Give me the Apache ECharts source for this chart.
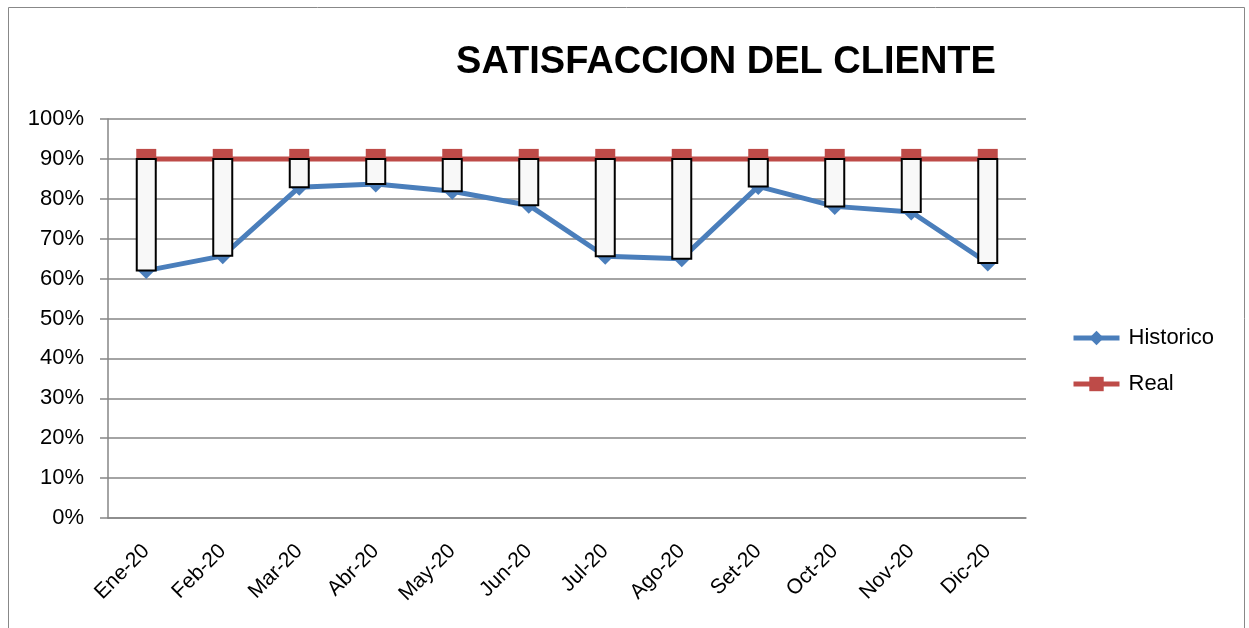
<!DOCTYPE html>
<html>
<head>
<meta charset="utf-8">
<script src="https://cdn.jsdelivr.net/npm/echarts@6/dist/echarts.min.js"></script>
<style>
html,body{margin:0;padding:0;background:#fff;}
#chart{width:1249px;height:628px;}
</style>
</head>
<body>
<div id="chart"></div>
<script>
const categories = ['Ene-20','Feb-20','Mar-20','Abr-20','May-20','Jun-20','Jul-20','Ago-20','Set-20','Oct-20','Nov-20','Dic-20'];
const historico = [0.62, 0.657, 0.829, 0.837, 0.819, 0.784, 0.656, 0.650, 0.831, 0.781, 0.767, 0.639];
const real = [0.90, 0.90, 0.90, 0.90, 0.90, 0.90, 0.90, 0.90, 0.90, 0.90, 0.90, 0.90];

const FONT = '"Liberation Sans", "Open Sans", sans-serif';
const chart = echarts.init(document.getElementById('chart'), null, {renderer:'canvas'});
const option = {
  backgroundColor:'#fff',
  animation:false,
  title:{
    text:'SATISFACCION DEL CLIENTE',
    left:721, textAlign:'center', top:39,
    textStyle:{fontFamily:FONT, fontWeight:'bold', fontSize:38, color:'#000'}
  },
  graphic:[{type:'rect', shape:{x:8.5,y:7.5,width:1236,height:640}, style:{fill:'none', stroke:'#888', lineWidth:1}, silent:true}],
  legend:{
    orient:'vertical', left:1066, top:322, itemGap:24,
    itemWidth:46, itemHeight:18,
    textStyle:{fontFamily:FONT, fontSize:22, color:'#000', padding:[0,0,0,4]},
    data:[
      {name:'Historico', lineStyle:{width:5}},
      {name:'Real', lineStyle:{width:5}}
    ]
  },
  grid:{left:108, right:223, top:119, bottom:110, containLabel:false},
  xAxis:{
    type:'category', data:categories, boundaryGap:true,
    axisLine:{lineStyle:{color:'#868686', width:1.5}},
    axisTick:{show:false},
    axisLabel:{rotate:45, margin:30, fontFamily:FONT, fontSize:21, color:'#000', interval:0}
  },
  yAxis:{
    type:'value', min:0, max:1, interval:0.1,
    axisLine:{show:true, lineStyle:{color:'#868686', width:1.5}},
    axisTick:{show:true, length:8, lineStyle:{color:'#868686', width:1.5}},
    splitLine:{lineStyle:{color:'#868686', width:1.5}},
    axisLabel:{margin:24, fontFamily:FONT, fontSize:22, color:'#000',
      formatter:v=>Math.round(v*100)+'%'}
  },
  series:[
    {
      name:'Historico', type:'line', data:historico, z:2,
      symbol:'diamond', symbolSize:17, showSymbol:true,
      lineStyle:{color:'#4A7EBB', width:5},
      itemStyle:{color:'#4A7EBB'}
    },
    {
      name:'Real', type:'line', data:real, z:2,
      symbol:'rect', symbolSize:20,
      lineStyle:{color:'#BE4B48', width:5},
      itemStyle:{color:'#BE4B48'}
    },
    {
      name:'updown', type:'custom', z:5,
      data:categories.map((c,i)=>[i, historico[i], real[i]]),
      encode:{x:0, y:[1,2]},
      renderItem:function(params, api){
        const i = api.value(0);
        const lo = api.coord([i, api.value(1)]);
        const hi = api.coord([i, api.value(2)]);
        const w = 19;
        return {type:'rect', shape:{x:lo[0]-w/2, y:hi[1], width:w, height:lo[1]-hi[1]},
          style:{fill:'#F8F8F8', stroke:'#000', lineWidth:2}};
      }
    }
  ]
};
chart.setOption(option);
</script>
</body>
</html>
